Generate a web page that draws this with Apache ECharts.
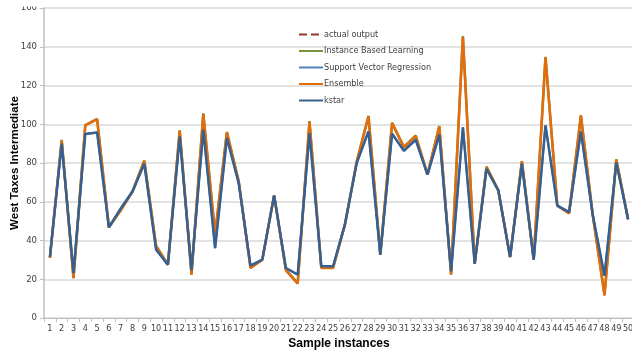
<!DOCTYPE html>
<html>
<head>
<meta charset="utf-8">
<script src="https://cdn.jsdelivr.net/npm/echarts@6/dist/echarts.min.js"></script>
<style>
  html, body { margin: 0; padding: 0; background: #ffffff; }
  #chart { width: 632px; height: 354px; }
</style>
</head>
<body>
<div id="chart"></div>
<script>
// Sample index 1..50
const samples = Array.from({ length: 50 }, (_, i) => String(i + 1));

// Target values and model predictions per sample
const actualOutput = [31, 91.7, 20.6, 99.4, 102.5, 46.8, 55.5, 65.3, 81, 37,
  27.5, 96.6, 22.4, 105.4, 43, 95.8, 70.5, 25.8, 30.1, 63.3,
  24.6, 17.7, 101.3, 25.8, 25.8, 48.2, 80.5, 104, 32.7, 100.6,
  88, 94, 74, 98.9, 22.4, 145, 28, 77.9, 65.9, 31.5,
  80.8, 30.1, 134.5, 58, 54, 104.4, 53.3, 11.7, 81.7, 51];
const instanceBasedLearning = [31, 92, 20.8, 99.6, 102.8, 46.8, 55.7, 65.3, 81.3, 37.3,
  27.6, 96.8, 22.6, 105.6, 43.3, 96, 70.6, 26, 30.1, 63.3,
  24.8, 18, 101.6, 26, 26, 48.2, 80.7, 104.3, 32.7, 100.8,
  88.3, 94.2, 74, 99.1, 22.6, 145.5, 28, 78.1, 65.9, 31.5,
  81, 30.1, 134.8, 58.1, 54.2, 104.6, 53.4, 12, 81.9, 51];
const supportVectorRegression = [31.5, 90, 23.2, 95, 95.8, 46.8, 56.5, 65.3, 79.6, 35.3,
  27.5, 93.7, 24.6, 97.2, 36.1, 92.9, 69.6, 27, 30.1, 63.3,
  25.8, 22.4, 95.4, 26.7, 26.7, 48.2, 80, 96.3, 32.7, 95.1,
  86.3, 92, 74, 94.6, 24.1, 98.4, 28, 77, 65.9, 31.5,
  79.6, 30.1, 99.4, 58, 54.6, 96.3, 53.3, 21.8, 80.3, 51];
const ensemble = actualOutput.slice();
const kstar = supportVectorRegression.slice();

const yTicks = { min: 0, max: 160, step: 20 };

const seriesList = [
  { name: 'actual output', data: actualOutput, color: '#953735', width: 1.5, type: 'dashed' },
  { name: 'Instance Based Learning', data: instanceBasedLearning, color: '#77933C', width: 2.5, type: 'solid' },
  { name: 'Support Vector Regression', data: supportVectorRegression, color: '#4F81BD', width: 2, type: 'solid' },
  { name: 'Ensemble', data: ensemble, color: '#E46C0A', width: 2.5, type: 'solid' },
  { name: 'kstar', data: kstar, color: '#376092', width: 2.5, type: 'solid' }
];

const font = 'DejaVu Sans Condensed, Liberation Sans, Arial, sans-serif';
const boldFont = 'Liberation Sans, Arial, sans-serif';
const chart = echarts.init(document.getElementById('chart'), null, { renderer: 'canvas' });

chart.setOption({
  backgroundColor: '#ffffff',
  animation: false,
  grid: { left: 44, right: -2, top: 8, bottom: 36, containLabel: false, outerBoundsMode: 'none' },
  legend: {
    orient: 'vertical',
    left: 293,
    top: 25,
    itemWidth: 24,
    itemHeight: 10,
    itemGap: 7.5,
    itemStyle: { opacity: 0 },
    textStyle: { fontFamily: font, fontSize: 9, color: '#404040', padding: [0, 0, 0, -4] },
    data: seriesList.map(s => s.name)
  },
  xAxis: {
    type: 'category',
    data: samples,
    boundaryGap: true,
    name: 'Sample instances',
    nameLocation: 'middle',
    nameGap: 20,
    nameMoveOverlap: false,
    nameTextStyle: { fontFamily: boldFont, fontSize: 12, fontWeight: 'bold', color: '#000000' },
    axisLine: { lineStyle: { color: '#bfbfbf', width: 1 } },
    axisTick: { show: true, interval: 0, length: 4, lineStyle: { color: '#bfbfbf' } },
    axisLabel: { interval: 0, fontFamily: font, fontSize: 9, color: '#404040', margin: 6 }
  },
  yAxis: {
    type: 'value',
    min: yTicks.min,
    max: yTicks.max,
    interval: yTicks.step,
    name: 'West Taxes Intermediate',
    nameLocation: 'middle',
    nameGap: 23,
    nameMoveOverlap: false,
    nameTextStyle: { fontFamily: boldFont, fontSize: 11.5, fontWeight: 'bold', color: '#000000' },
    axisLine: { show: true, lineStyle: { color: '#bfbfbf', width: 1.5 } },
    axisTick: { show: true, length: 4, lineStyle: { color: '#bfbfbf' } },
    axisLabel: { fontFamily: font, fontSize: 9.5, color: '#404040', margin: 7 },
    splitLine: { lineStyle: { color: '#d9d9d9', width: 1.5 } }
  },
  series: seriesList.map((s, i) => ({
    name: s.name,
    type: 'line',
    data: s.data,
    symbol: 'none',
    z: 2 + i,
    itemStyle: { color: s.color },
    lineStyle: { color: s.color, width: s.width, type: s.type }
  })),
  graphic: [{
    type: 'rect',
    left: 0, top: 0,
    shape: { width: 632, height: 6.5 },
    style: { fill: '#ffffff' },
    z: 100
  }]
});
</script>
</body>
</html>
